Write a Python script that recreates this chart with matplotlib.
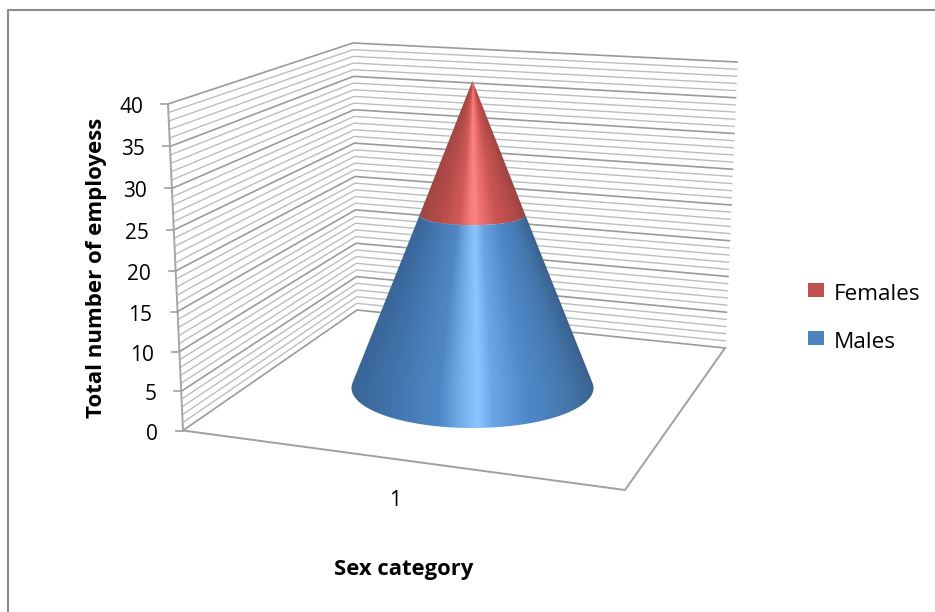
import matplotlib
matplotlib.use("Agg")
import matplotlib.pyplot as plt
import numpy as np
from matplotlib.colors import LinearSegmentedColormap
from matplotlib.patches import Polygon, Rectangle

categories = ["1"]
series_names = ["Females", "Males"]
males = [22.5]
females = [17.5]
y_ticks = [0, 5, 10, 15, 20, 25, 30, 35, 40]
y_minor = list(range(0, 41))
x_label = "Sex category"
y_label = "Total number of employess"

# box corners in picture pixels
FRONT_BOT = (183, 430.5)
FRONT_TOP = (168, 104)
BACK_BOT = (357, 310)
BACK_TOP = (353, 43)
RIGHT_BOT = (725, 348)
RIGHT_TOP = (737, 62)
FLOOR_FRONT = (625, 490)
VMAX = 40.0

# cone position on the floor
CX = 472.5
BASE_Y = 388.0
RX = 121.0
RY = 40.0
PX_PER_UNIT = 7.68   # vertical scale at the depth of the cone


def edge(p0, p1, v, a=1.0):
    # a < 1 gives the small perspective squeeze of the front edge
    t = v / VMAX
    t = t * a / (1 + (a - 1) * t)
    return p0[0] + (p1[0] - p0[0]) * t, p0[1] + (p1[1] - p0[1]) * t


def cone_y(v):
    return BASE_Y - v * PX_PER_UNIT


def arc(y, hw, k, over=0.0):
    # lower half of a level ring, left to right; over runs it past the widest points
    th = np.linspace(np.pi + over, -over, 90)
    return np.column_stack([CX + hw * np.cos(th), y + hw * k * np.sin(th)])


fig = plt.figure(figsize=(9.35, 6.12), dpi=100)
ax = fig.add_axes([0, 0, 1, 1])
ax.set_xlim(0, 935)
ax.set_ylim(612, 0)
ax.axis("off")

# outer chart frame
ax.plot([8, 8, 935], [612, 10, 10], color="#8c8c8c", lw=1.5, zorder=1)

# walls
for v in y_minor:
    major = v % 5 == 0
    col = "#9a9a9a" if major else "#bdbdbd"
    lw = 1.2 if major else 1.0
    p0 = edge(FRONT_BOT, FRONT_TOP, v, 0.955)
    p1 = edge(BACK_BOT, BACK_TOP, v)
    p2 = edge(RIGHT_BOT, RIGHT_TOP, v)
    ax.plot([p0[0], p1[0], p2[0]], [p0[1], p1[1], p2[1]], color=col, lw=lw, zorder=2)

ax.plot([FRONT_BOT[0], FRONT_TOP[0]], [FRONT_BOT[1], FRONT_TOP[1]], color="#a6a6a6", lw=1.4, zorder=3)
ax.plot([FRONT_BOT[0], FLOOR_FRONT[0], RIGHT_BOT[0]], [FRONT_BOT[1], FLOOR_FRONT[1], RIGHT_BOT[1]],
        color="#a0a0a0", lw=1.4, zorder=3)

# y axis ticks and labels
for v in y_ticks:
    x, y = edge(FRONT_BOT, FRONT_TOP, v, 0.955)
    ax.plot([x - 7, x], [y, y], color="#a0a0a0", lw=1.2, zorder=3)
    ax.text(x - 25, y + 3.5, str(v), ha="right", va="center", fontsize=15,
            family="Open Sans", color="black")

# cone
total = males[0] + females[0]
apex_y = cone_y(total)
bound_y = cone_y(males[0])
frac = (BASE_Y - bound_y) / (BASE_Y - apex_y)
bound_hw = RX * (1 - frac)
bound_k = 10.0 / bound_hw
tangent = np.arcsin(RY / (BASE_Y - apex_y))

blues = LinearSegmentedColormap.from_list("blues", [
    (0.0, "#3a6597"), (0.12, "#3f70a7"), (0.36, "#4f87c6"), (0.46, "#78b2ee"),
    (0.52, "#8cc6ff"), (0.58, "#6ca6e6"), (0.72, "#4f89cb"), (0.9, "#4476ab"), (1.0, "#3a628f")])
reds = LinearSegmentedColormap.from_list("reds", [
    (0.0, "#a04644"), (0.2, "#b54c4a"), (0.38, "#cf5a58"), (0.47, "#f57a7a"),
    (0.52, "#ff8383"), (0.58, "#ec6f6f"), (0.72, "#c95553"), (0.9, "#b04a48"), (1.0, "#9a4341")])

xs = np.arange(CX - RX - 2, CX + RX + 3, 1.0)
ys = np.arange(apex_y - 2, BASE_Y + RY + 3, 1.0)
xg, yg = np.meshgrid(xs, ys)
hw = np.clip(RX * (yg - apex_y) / (BASE_Y - apex_y), 1.0, RX)
shade = np.clip((xg - CX) / hw, -1, 1) * 0.5 + 0.5
extent = [xs[0], xs[-1], ys[-1], ys[0]]

fem_pts = np.vstack([[[CX, apex_y]], arc(bound_y, bound_hw, bound_k)])
male_pts = np.vstack([arc(bound_y, bound_hw, bound_k), arc(BASE_Y, RX, RY / RX, tangent)[::-1]])

for pts, cmap, z in [(fem_pts, reds, 4), (male_pts, blues, 5)]:
    im = ax.imshow(shade, cmap=cmap, vmin=0, vmax=1, extent=extent, aspect="auto",
                   interpolation="bilinear", zorder=z)
    poly = Polygon(pts, closed=True, transform=ax.transData, fc="none", ec="none")
    ax.add_patch(poly)
    im.set_clip_path(poly)
ax.set_xlim(0, 935)
ax.set_ylim(612, 0)

# labels
ax.text(395, 500, categories[0], ha="center", va="center", fontsize=15, family="Open Sans", color="black")
ax.text(404, 569, x_label, ha="center", va="center", fontsize=15.8, family="Open Sans",
        fontweight="bold", color="black")
ax.text(97, 268, y_label, ha="center", va="center", rotation=90, fontsize=16, family="Open Sans",
        fontweight="bold", color="black")

# legend
for name, col, y in zip(series_names, ["#c0504d", "#4f81bd"], [290, 338]):
    ax.add_patch(Rectangle((808, y - 7), 16, 14, fc=col, ec="none", zorder=6))
    ax.text(834, y + 4, name, ha="left", va="center", fontsize=16.2, family="Open Sans", color="black")

fig.savefig("out.png", dpi=100, facecolor="white")
